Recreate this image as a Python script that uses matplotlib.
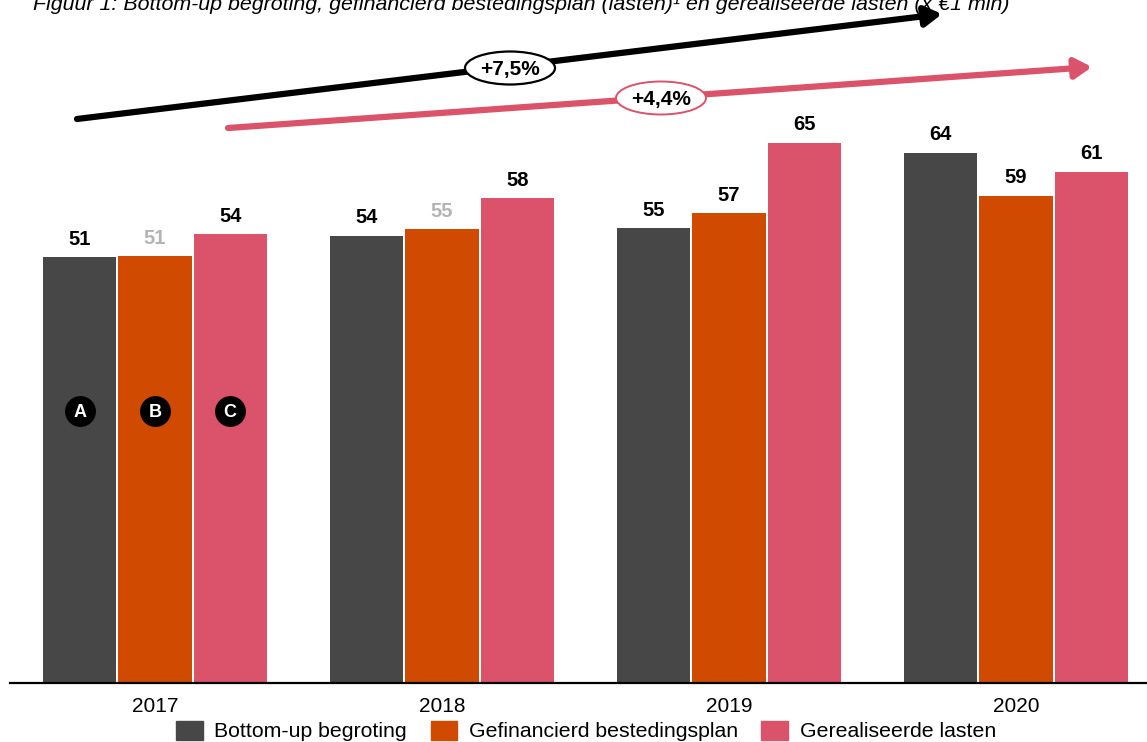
import matplotlib
matplotlib.use("Agg")
import matplotlib.pyplot as plt
from matplotlib.patches import Ellipse, Patch
import numpy as np

plt.rcParams['font.family'] = ['Liberation Sans', 'DejaVu Sans']

# ---- data (x €1 mln) ----
years = ['2017', '2018', '2019', '2020']
series = ['Bottom-up begroting', 'Gefinancierd bestedingsplan', 'Gerealiseerde lasten']
bottom_up = [51.3, 53.9, 54.8, 63.9]
gefinancierd = [51.4, 54.7, 56.6, 58.7]
gerealiseerd = [54.1, 58.4, 65.1, 61.6]
labels_bottom_up = ['51', '54', '55', '64']
labels_gefinancierd = ['51', '55', '57', '59']
labels_gerealiseerd = ['54', '58', '65', '61']
grey_labels = {(1, 0), (1, 1)}  # (series, year) shown in grey
markers = ['A', 'B', 'C']
growth = ['+7,5%', '+4,4%']

colors = ['#474747', '#D04A02', '#DB536A']
values = [bottom_up, gefinancierd, gerealiseerd]
labels = [labels_bottom_up, labels_gefinancierd, labels_gerealiseerd]

W, H = 1147, 742
fig = plt.figure(figsize=(W / 100, H / 100), dpi=100)
ax = fig.add_axes([10 / W, 1 - 683 / H, 1 - 10 / W, 683 / H])

x = np.arange(len(years))
step = 0.262
width = 0.255
for s in range(3):
    pos = x + (s - 1) * step
    ax.bar(pos, values[s], width=width, color=colors[s], label=series[s], zorder=2)
    for j in range(len(years)):
        c = '#B4B4B4' if (s, j) in grey_labels else 'black'
        ax.annotate(labels[s][j], (pos[j], values[s][j]), xytext=(0, 6),
                    textcoords='offset points', ha='center', va='bottom',
                    fontsize=14.5, fontweight='bold', color=c)
    # A / B / C markers in 2017 bars
    ax.scatter(pos[0], 32.8, s=450, color='black', zorder=3)
    ax.text(pos[0], 32.6, markers[s], ha='center', va='center', color='white',
            fontsize=13, fontweight='bold', zorder=4)

ax.set_xlim(-145 / 287, 992 / 287)
ax.set_ylim(0, 683 / 8.3)
ax.set_xticks(x)
ax.set_xticklabels(years, fontsize=15)
ax.tick_params(axis='x', length=0, pad=10)
ax.set_yticks([])
for sp in ['top', 'right', 'left']:
    ax.spines[sp].set_visible(False)
ax.spines['bottom'].set_linewidth(1.6)
ax.spines['bottom'].set_color('black')

# overlay in pixel coordinates for growth arrows
ov = fig.add_axes([0, 0, 1, 1], facecolor='none')
ov.set_xlim(0, W)
ov.set_ylim(H, 0)
ov.axis('off')
arrow_style = '-|>,head_width=0.6,head_length=1.0'
ov.annotate('', xy=(942, 14), xytext=(77, 119),
            arrowprops=dict(arrowstyle=arrow_style, lw=4.5, color='black',
                            shrinkA=0, shrinkB=0))
ov.annotate('', xy=(1092, 67), xytext=(228, 128),
            arrowprops=dict(arrowstyle=arrow_style, lw=4.5, color=colors[2],
                            shrinkA=0, shrinkB=0))
ov.add_patch(Ellipse((510, 68), 90, 33, facecolor='white', edgecolor='black', lw=1.6, zorder=5))
ov.text(510, 69, growth[0], ha='center', va='center', fontsize=15, fontweight='bold', zorder=6)
ov.add_patch(Ellipse((661, 98), 90, 33, facecolor='white', edgecolor=colors[2], lw=1.4, zorder=5))
ov.text(661, 99, growth[1], ha='center', va='center', fontsize=15, fontweight='bold', zorder=6)

fig.text(33 / W, 1 - 10 / H,
         'Figuur 1: Bottom-up begroting, gefinancierd bestedingsplan (lasten)\u00b9 en gerealiseerde lasten (x \u20ac1 mln)',
         ha='left', va='baseline', fontsize=15.4, style='italic')

handles = [Patch(color=colors[s]) for s in range(3)]
fig.legend(handles, series, loc='center', bbox_to_anchor=(586 / W, 1 - 731 / H),
           ncol=3, frameon=False, fontsize=15.3, handlelength=1.25, handleheight=1.0,
           handletextpad=0.55, columnspacing=1.1, borderpad=0)

fig.savefig('out.png', dpi=100)
